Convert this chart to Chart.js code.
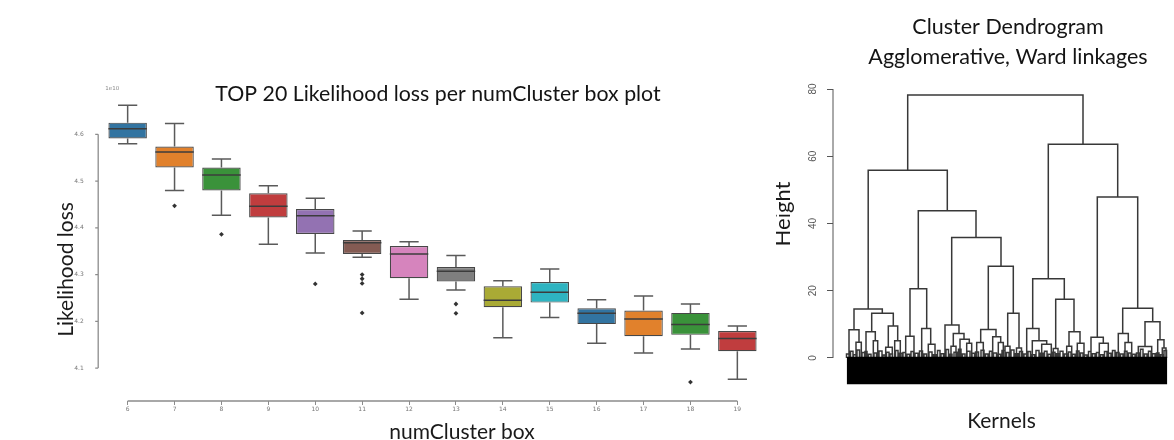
<!DOCTYPE html>
<html>
<head>
<meta charset="utf-8">
<script src="https://cdn.jsdelivr.net/npm/chart.js@4.4.1/dist/chart.umd.min.js"></script>
<style>
  html, body { margin: 0; padding: 0; background: #fff; overflow: hidden; width: 1174px; height: 440px; }
  canvas { position: absolute; top: 0; }
  #boxChart { left: 0; z-index: 1; }
  #dendro { left: 776px; z-index: 2; }
</style>
</head>
<body>
<canvas id="boxChart" width="876" height="450"></canvas>
<canvas id="dendro" width="464" height="440"></canvas>
<script>
// ---- box plot data (likelihood loss, x 1e10) ----
const numClusters = ['6', '7', '8', '9', '10', '11', '12', '13', '14', '15', '16', '17', '18', '19'];
const whiskerHigh = [4.662, 4.623, 4.547, 4.490, 4.463, 4.393, 4.370, 4.341, 4.287, 4.312, 4.246, 4.254, 4.237, 4.190];
const q3          = [4.625, 4.574, 4.529, 4.474, 4.440, 4.374, 4.361, 4.316, 4.275, 4.284, 4.228, 4.223, 4.218, 4.179];
const medians     = [4.612, 4.562, 4.513, 4.446, 4.426, 4.368, 4.344, 4.307, 4.245, 4.262, 4.217, 4.205, 4.193, 4.163];
const q1          = [4.591, 4.529, 4.480, 4.422, 4.387, 4.344, 4.292, 4.285, 4.230, 4.240, 4.194, 4.168, 4.171, 4.136];
const whiskerLow  = [4.580, 4.480, 4.427, 4.365, 4.346, 4.337, 4.247, 4.267, 4.165, 4.208, 4.153, 4.132, 4.141, 4.076];
const outlierCluster = ['7', '8', '10', '11', '11', '11', '11', '13', '13', '18'];
const outlierValue   = [4.447, 4.386, 4.280, 4.300, 4.291, 4.281, 4.218, 4.237, 4.217, 4.070];
const boxColors = ['#3274a1', '#e1812c', '#3a923a', '#c03d3e', '#9372b2', '#845b53', '#d684bd',
                   '#7f7f7f', '#a9aa35', '#2eb4c1', '#3274a1', '#e1812c', '#3a923a', '#c03d3e'];

// ---- dendrogram data: [leftX, leftHeight, rightX, rightHeight, mergeHeight] ----
const upperMerges = [
  [67.7, 55.8, 243, 63.6, 78.2],
  [28.2, 14.6, 107.3, 43.8, 55.8],
  [208.3, 23.6, 277.7, 47.9, 63.6],
  [257.3, 6.2, 297.7, 14.8, 47.9],
  [78.3, 20.6, 136, 35.8, 43.8],
  [14, 8.4, 42.3, 13.3, 14.6],
  [70, 6.5, 86.7, 8.8, 20.6],
  [111.7, 9.8, 161, 27.3, 35.8],
  [148.3, 8.5, 173.3, 13.3, 27.3],
  [192.7, 8.8, 224.3, 17.5, 23.6],
  [215.7, 2.8, 234, 7.8, 17.5],
  [282.7, 7.3, 312.7, 10.8, 14.8]
];
const middleMerges = [
  [9, 0, 19, 4.7, 8.4],
  [31.7, 7.8, 53.3, 9.5, 13.3],
  [26, 0, 35.3, 5.1, 7.8],
  [48.3, 3.2, 57.7, 5.1, 9.5],
  [65.7, 0, 74, 0, 6.5],
  [81.7, 0, 90.7, 4.1, 8.8],
  [105, 0, 119, 7.3, 9.8],
  [113.3, 3.5, 124, 5.6, 7.3],
  [120, 0, 129.3, 4.4, 5.6],
  [140.7, 4.6, 156, 6.3, 8.5],
  [152.7, 0, 160.7, 4.6, 6.3],
  [167.7, 3.5, 179, 3.0, 13.3],
  [186.7, 0, 199, 5.1, 8.8],
  [192.3, 0, 206.7, 4.1, 5.1],
  [229, 3.5, 240, 4.4, 7.8],
  [251, 0, 263.3, 4.4, 6.2],
  [259.3, 0, 268.3, 0, 4.4],
  [278.3, 0, 288.3, 4.6, 7.3],
  [305, 3.4, 320, 5.4, 10.8],
  [298.3, 0, 311.7, 0, 3.4],
  [317.7, 0, 324, 3.0, 5.4]
];
const lowerMerges = [
  [16, 0, 21.3, 0, 4.7], [33.3, 0, 37.7, 0, 5.1], [45.7, 0, 52.3, 0, 3.2], [54.7, 0, 60.3, 0, 5.1],
  [88.3, 0, 95, 0, 4.1], [111, 0, 116, 0, 3.5], [126.7, 0, 131.7, 0, 4.4], [136.7, 0, 143.3, 0, 4.6],
  [158.3, 0, 163.3, 0, 4.6], [165, 0, 170, 0, 3.5], [176.5, 0, 181.5, 0, 3.0], [201.7, 0, 211.3, 0, 4.1],
  [213.3, 0, 218, 0, 2.8], [226.7, 0, 231.7, 0, 3.5], [237.3, 0, 244, 0, 4.4], [285, 0, 291.7, 0, 4.6],
  [322.3, 0, 326, 0, 3.0]
];
// tiny forks near the leaves: [leftX, rightX, height]
const tinyForks = [
  [6.5, 9, 1.2], [10.5, 13, 2.0], [13.5, 16, 1.0], [17, 19.5, 2.4], [22, 24.5, 1.6], [25, 27, 1.9],
  [28.5, 31, 1.1], [34, 36.5, 1.5], [39, 42, 2.1], [43, 45, 0.9], [46.5, 49, 1.7], [50, 52.5, 1.2],
  [55.5, 58, 2.2], [59, 62, 1.4], [63, 65.5, 1.6], [67, 69.5, 1.1], [71, 73.5, 1.9], [75, 78, 1.4],
  [79.5, 82.5, 2.1], [84, 86.5, 1.2], [89, 92, 1.8], [93.5, 96, 1.0], [97.5, 100, 2.2], [101, 103.5, 1.3],
  [106, 108.5, 2.5], [109.5, 112, 1.1], [114, 117, 1.7], [118.5, 121, 2.6], [122.5, 125, 1.2], [127, 130, 2.0],
  [132, 134.5, 1.4], [135.5, 138.5, 1.8], [141, 144, 2.3], [145.5, 148, 1.2], [149.5, 152, 2.0], [153.5, 156.5, 1.5],
  [158, 160.5, 1.1], [162, 165, 2.2], [166.5, 169, 1.6], [171, 174, 2.4], [175.5, 178, 1.3], [179.5, 182.5, 1.9],
  [184, 186.5, 1.2], [188, 190.5, 1.9], [192, 194.5, 1.0], [196, 199, 2.2], [200.5, 203, 1.4], [204.5, 207, 2.0],
  [208, 210.5, 1.1], [212, 215, 1.7], [216.5, 219, 1.3], [220, 223, 2.0], [224.5, 227, 1.2], [228.5, 231, 1.8],
  [232.5, 235, 1.1], [236.5, 239, 2.1], [240.5, 243, 1.5], [244.5, 247, 0.9], [248.5, 251, 1.9], [252.5, 255, 1.3],
  [256.5, 259, 1.6], [260.5, 263, 1.0], [264.5, 267, 1.9], [268.5, 271, 1.4], [272.5, 275, 2.2], [276.5, 279, 1.6],
  [280.5, 283, 1.2], [284.5, 287, 2.0], [288.5, 291, 1.5], [292.5, 295, 1.1], [296.5, 299, 1.5], [300.5, 303, 2.6],
  [304.5, 307, 1.2], [308.5, 311, 2.0], [312.5, 315, 1.3], [316.5, 319, 1.5], [320.5, 323, 1.0], [324, 326.5, 2.2]
];
const leafSpan = [6.7, 327.3];
const leafLabelBand = [0.4, -7.8];

const titleFont = 'Lato, "Liberation Sans", sans-serif';
Chart.defaults.font.family = '"Liberation Sans", Arial, sans-serif';
Chart.defaults.animation = false;

// ---------- left: box plot ----------
const boxDecor = {
  id: 'boxDecor',
  afterDatasetsDraw(chart) {
    const { ctx, chartArea, scales: { x, y } } = chart;
    const bars = chart.getDatasetMeta(0).data;
    ctx.save();
    bars.forEach((bar, i) => {
      const cx = bar.x, w = bar.width;
      const hi = y.getPixelForValue(whiskerHigh[i]), lo = y.getPixelForValue(whiskerLow[i]);
      ctx.strokeStyle = '#5a5a5a';
      ctx.lineWidth = 1.5;
      ctx.beginPath();
      ctx.moveTo(cx, y.getPixelForValue(q3[i])); ctx.lineTo(cx, hi);
      ctx.moveTo(cx - w / 4, hi); ctx.lineTo(cx + w / 4, hi);
      ctx.moveTo(cx, y.getPixelForValue(q1[i])); ctx.lineTo(cx, lo);
      ctx.moveTo(cx - w / 4, lo); ctx.lineTo(cx + w / 4, lo);
      ctx.stroke();
      const m = y.getPixelForValue(medians[i]);
      ctx.strokeStyle = '#3c3c3c';
      ctx.beginPath(); ctx.moveTo(cx - w / 2, m); ctx.lineTo(cx + w / 2, m); ctx.stroke();
    });
    // offset spines like seaborn despine(trim=True)
    const ax = chartArea.left - 6;
    const t0 = y.getPixelForValue(y.ticks[0].value), t1 = y.getPixelForValue(y.ticks[y.ticks.length - 1].value);
    ctx.strokeStyle = '#8c8c8c';
    ctx.lineWidth = 1.3;
    ctx.beginPath();
    ctx.moveTo(ax, t0); ctx.lineTo(ax, t1);
    y.ticks.forEach(t => { const p = y.getPixelForValue(t.value); ctx.moveTo(ax - 3, p); ctx.lineTo(ax, p); });
    ctx.moveTo(x.getPixelForValue(0), chartArea.bottom); ctx.lineTo(x.getPixelForValue(numClusters.length - 1), chartArea.bottom);
    ctx.stroke();
    // texts
    ctx.fillStyle = '#8a8a8a';
    ctx.font = '5.5px "DejaVu Sans"';
    ctx.textAlign = 'center';
    ctx.fillText('1e10', ax + 14, y.getPixelForValue(4.6) - 44);
    ctx.fillStyle = '#1a1a1a';
    ctx.font = '21px ' + titleFont;
    ctx.textBaseline = 'alphabetic';
    ctx.fillText('numCluster box', 462, 439);
    ctx.translate(73, 269.5);
    ctx.rotate(-Math.PI / 2);
    ctx.fillText('Likelihood loss', 0, 0);
    ctx.restore();
  }
};

new Chart(document.getElementById('boxChart'), {
  type: 'bar',
  data: {
    labels: numClusters,
    datasets: [
      {
        data: numClusters.map((c, i) => [q1[i], q3[i]]),
        backgroundColor: boxColors,
        borderColor: '#474747',
        borderWidth: 1.2,
        borderSkipped: false,
        barPercentage: 0.82,
        categoryPercentage: 1
      },
      {
        type: 'scatter',
        data: outlierCluster.map((c, i) => ({ x: c, y: outlierValue[i] })),
        pointStyle: 'rectRot',
        pointRadius: 2.4,
        backgroundColor: '#333',
        borderWidth: 0
      }
    ]
  },
  options: {
    responsive: false,
    devicePixelRatio: 1,
    layout: { padding: 0 },
    plugins: {
      legend: { display: false },
      tooltip: { enabled: false },
      title: {
        display: true,
        text: 'TOP 20 Likelihood loss per numCluster box plot',
        color: '#141414',
        font: { family: titleFont, size: 21.3, weight: 'normal' },
        padding: { top: 81, bottom: 0 }
      }
    },
    scales: {
      x: {
        type: 'category',
        offset: true,
        grid: { display: true, drawOnChartArea: false, offset: false, tickLength: 4, color: '#8c8c8c' },
        border: { display: false },
        ticks: { color: '#777', font: { size: 6, family: '"DejaVu Sans"' }, padding: 1 },
        afterFit(s) { s.height = 49; }
      },
      y: {
        type: 'linear',
        min: 4.02949,
        max: 4.6594,
        grid: { display: false },
        border: { display: false },
        ticks: {
          stepSize: 0.1,
          includeBounds: false,
          color: '#777',
          font: { size: 6, family: '"DejaVu Sans"' },
          padding: 12.5,
          callback: v => v.toFixed(1)
        },
        afterFit(s) { s.width = 104.2; }
      },
      yR: {
        position: 'right',
        grid: { display: false },
        border: { display: false },
        ticks: { display: false },
        afterFit(s) { s.width = 115.2; }
      }
    }
  },
  plugins: [boxDecor]
});

// ---------- right: dendrogram ----------
const segmentPoints = [];
upperMerges.concat(middleMerges, lowerMerges).forEach(([x1, h1, x2, h2, h]) => {
  segmentPoints.push({ x: x1, y: h1 }, { x: x1, y: h }, { x: x2, y: h }, { x: x2, y: h2 }, { x: x2, y: null });
});
tinyForks.forEach(([x1, x2, h]) => {
  segmentPoints.push({ x: x1, y: 0 }, { x: x1, y: h }, { x: x2, y: h }, { x: x2, y: 0 }, { x: x2, y: null });
});

const dendroDecor = {
  id: 'dendroDecor',
  afterDatasetsDraw(chart) {
    const { ctx, chartArea, scales: { y } } = chart;
    ctx.save();
    ctx.strokeStyle = '#555';
    ctx.lineWidth = 1;
    ctx.beginPath();
    ctx.moveTo(chartArea.left, y.getPixelForValue(y.ticks[0].value));
    ctx.lineTo(chartArea.left, y.getPixelForValue(y.ticks[y.ticks.length - 1].value));
    ctx.stroke();
    ctx.fillStyle = '#1a1a1a';
    ctx.font = '22px ' + titleFont;
    ctx.textAlign = 'center';
    ctx.translate(790 - 776, 214);
    ctx.rotate(-Math.PI / 2);
    ctx.fillText('Height', 0, 0);
    ctx.restore();
  }
};

new Chart(document.getElementById('dendro'), {
  type: 'line',
  data: {
    datasets: [
      {
        data: [{ x: leafSpan[0], y: leafLabelBand[0] }, { x: leafSpan[1], y: leafLabelBand[0] }],
        borderWidth: 0,
        pointRadius: 0,
        fill: { value: leafLabelBand[1] },
        backgroundColor: '#000'
      },
      {
        data: segmentPoints,
        borderColor: '#383838',
        borderWidth: 1.5,
        pointRadius: 0,
        spanGaps: false,
        tension: 0,
        fill: false
      }
    ]
  },
  options: {
    responsive: false,
    devicePixelRatio: 1,
    layout: { padding: 0 },
    plugins: {
      legend: { display: false },
      tooltip: { enabled: false },
      title: {
        display: true,
        text: ['Cluster Dendrogram', 'Agglomerative, Ward linkages'],
        color: '#141414',
        font: { family: titleFont, size: 21.5, weight: 'normal', lineHeight: '30px' },
        padding: { top: 12, bottom: 17 }
      }
    },
    scales: {
      x: {
        type: 'linear',
        min: -7,
        max: 330,
        grid: { display: false },
        border: { display: false },
        ticks: { display: false },
        title: { display: true, text: 'Kernels', color: '#1a1a1a', font: { family: titleFont, size: 21 }, padding: { top: 0, bottom: 6 } },
        afterFit(s) { s.height = 50; }
      },
      y: {
        type: 'linear',
        min: -9.517,
        max: 80,
        grid: { display: true, drawOnChartArea: false, tickLength: 6, color: '#555' },
        border: { display: false },
        ticks: { stepSize: 20, includeBounds: false, minRotation: 90, maxRotation: 90, crossAlign: 'center', color: '#555', font: { size: 10 }, padding: 8.4 },
        afterFit(s) { s.width = 57; }
      },
      yR: {
        position: 'right',
        grid: { display: false },
        border: { display: false },
        ticks: { display: false },
        afterFit(s) { s.width = 70; }
      }
    }
  },
  plugins: [dendroDecor]
});
</script>
</body>
</html>
